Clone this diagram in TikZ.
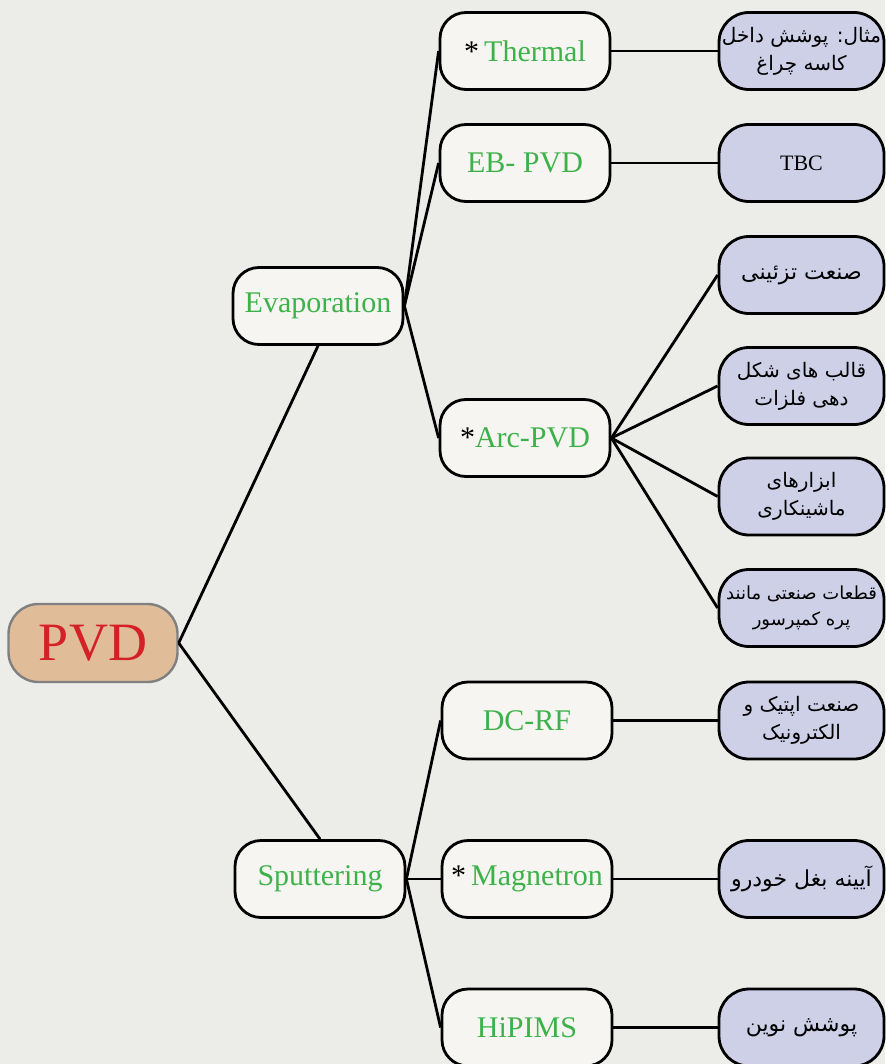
\documentclass[tikz,border=0pt]{standalone}
\usepackage{fontspec}
\setmainfont{Liberation Serif}
\newfontfamily\fa[Script=Arabic]{DejaVu Sans}
\TeXXeTstate=1
\definecolor{bgc}{RGB}{236,236,233}
\definecolor{midfill}{RGB}{246,245,241}
\definecolor{rfill}{RGB}{206,208,232}
\definecolor{pvdfill}{RGB}{224,188,152}
\definecolor{pvdred}{RGB}{212,32,39}
\definecolor{grn}{RGB}{62,178,74}
\definecolor{pvdline}{RGB}{128,128,128}
\tikzset{
  midbox/.style={draw=black, line width=1.4pt, fill=midfill, rounded corners=13pt,
    minimum width=85pt, minimum height=38.5pt, inner sep=0pt, text=grn,
    font=\fontsize{15}{18}\selectfont},
  rbox/.style={draw=black, line width=1.4pt, fill=rfill, rounded corners=15pt,
    minimum width=82.5pt, minimum height=38.5pt, inner sep=0pt, align=center,
    font=\fa\fontsize{10}{14}\selectfont},
  conn/.style={line width=1.4pt, black},
}
\begin{document}
\begin{tikzpicture}[x=0.5pt,y=-0.5pt]
\fill[bgc] (0,0) rectangle (885,1064);
\useasboundingbox (0,0) rectangle (885,1064);
% root
\node[draw=pvdline, line width=1.2pt, fill=pvdfill, rounded corners=15pt,
  minimum width=84.5pt, minimum height=39pt, inner sep=0pt, text=pvdred,
  font=\fontsize{27}{30}\selectfont] (pvd) at (93,643) {PVD};
% level 1
\node[midbox] (evap) at (318,306) {Evaporation};
\node[midbox] (sput) at (320,879) {Sputtering};
% level 2
\node[midbox] (therm) at (525,51) {{\color{black}*}\,Thermal};
\node[midbox] (eb) at (525,163) {EB- PVD};
\node[midbox] (arc) at (525,438) {{\color{black}*}Arc-PVD};
\node[midbox] (dcrf) at (527,720.5) {DC-RF};
\node[midbox] (mag) at (527,879) {{\color{black}*}\,Magnetron};
\node[midbox] (hip) at (527,1027.5) {HiPIMS};
% level 3
\node[rbox] (r1) at (801.5,51) {\beginR مثال: پوشش داخل\endR\\\beginR کاسه چراغ\endR};
\node[rbox, font=\fontsize{11}{13}\selectfont] (r2) at (801.5,163) {TBC};
\node[rbox, font=\fa\fontsize{11}{14}\selectfont] (r3) at (801.5,275) {\beginR صنعت تزئینی\endR};
\node[rbox] (r4) at (801.5,386) {\beginR قالب های شکل\endR\\\beginR دهی فلزات\endR};
\node[rbox] (r5) at (801.5,496.5) {\beginR ابزارهای\endR\\\beginR ماشینکاری\endR};
\node[rbox, font=\fa\fontsize{9}{13}\selectfont] (r6) at (801.5,608) {\beginR قطعات صنعتی مانند\endR\\\beginR پره کمپرسور\endR};
\node[rbox] (r7) at (801.5,720.5) {\beginR صنعت اپتیک و\endR\\\beginR الکترونیک\endR};
\node[rbox, font=\fa\fontsize{11}{14}\selectfont] (r8) at (801.5,879) {\beginR آیینه بغل خودرو\endR};
\node[rbox, font=\fa\fontsize{11}{14}\selectfont] (r9) at (801.5,1027.5) {\beginR پوشش نوین\endR};
% connectors
\draw[conn] (pvd.east) -- (evap.south);
\draw[conn] (pvd.east) -- (sput.north);
\draw[conn] (evap.east) -- (therm.west);
\draw[conn] (evap.east) -- (eb.west);
\draw[conn] (evap.east) -- (arc.west);
\draw[conn] (sput.east) -- (dcrf.west);
\draw[conn] (sput.east) -- (mag.west);
\draw[conn] (sput.east) -- (hip.west);
\draw[conn] (therm.east) -- (r1.west);
\draw[conn] (eb.east) -- (r2.west);
\draw[conn] (arc.east) -- (r3.west);
\draw[conn] (arc.east) -- (r4.west);
\draw[conn] (arc.east) -- (r5.west);
\draw[conn] (arc.east) -- (r6.west);
\draw[conn] (dcrf.east) -- (r7.west);
\draw[conn] (mag.east) -- (r8.west);
\draw[conn] (hip.east) -- (r9.west);
\end{tikzpicture}
\end{document}
